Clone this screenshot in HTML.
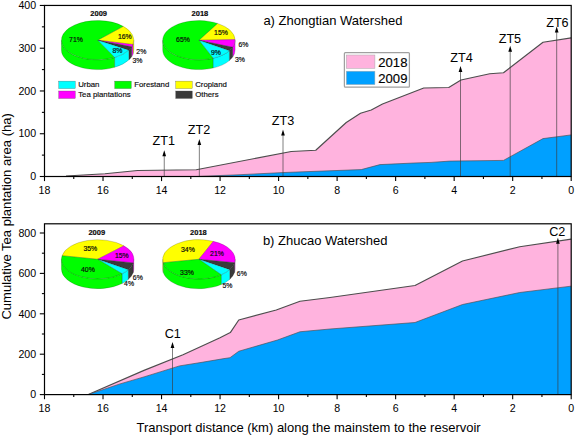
<!DOCTYPE html>
<html><head><meta charset="utf-8"><title>Cumulative tea plantation area</title>
<style>html,body{margin:0;padding:0;background:#fff}body{width:575px;height:436px;overflow:hidden}</style></head>
<body>
<svg width="575" height="436" viewBox="0 0 575 436" style="display:block;font-family:'Liberation Sans', Arial, sans-serif">
<rect x="0" y="0" width="575" height="436" fill="#fff"/>
<path d="M66.00,176.50 L66.00,176.00 L105.00,173.75 L137.50,170.50 L196.25,169.75 L291.25,151.50 L315.75,150.25 L346.25,122.50 L360.50,113.25 L371.25,110.00 L382.50,104.00 L423.75,88.00 L448.75,87.50 L461.00,80.00 L489.75,73.75 L503.50,72.75 L543.00,42.30 L571.20,37.90 L571.20,176.50 Z" fill="#FFB3DE" stroke="none"/>
<path d="M66.00,176.00 L105.00,173.75 L137.50,170.50 L196.25,169.75 L291.25,151.50 L315.75,150.25 L346.25,122.50 L360.50,113.25 L371.25,110.00 L382.50,104.00 L423.75,88.00 L448.75,87.50 L461.00,80.00 L489.75,73.75 L503.50,72.75 L543.00,42.30 L571.20,37.90" fill="none" stroke="#4d4d4d" stroke-width="1.15" stroke-linejoin="round"/>
<path d="M196.00,176.50 L196.00,176.50 L240.00,174.70 L284.00,172.50 L361.25,169.60 L380.00,164.60 L414.00,163.00 L431.00,162.40 L449.75,161.10 L503.50,160.40 L543.00,138.60 L571.20,134.90 L571.20,176.50 Z" fill="#00A0FF" stroke="none"/>
<path d="M196.00,176.50 L240.00,174.70 L284.00,172.50 L361.25,169.60 L380.00,164.60 L414.00,163.00 L431.00,162.40 L449.75,161.10 L503.50,160.40 L543.00,138.60 L571.20,134.90" fill="none" stroke="#4d4d4d" stroke-width="0.65" stroke-linejoin="round"/>
<path d="M88.30,394.60 L88.30,394.50 L144.00,370.40 L183.00,354.70 L220.00,337.70 L230.30,332.60 L238.75,320.00 L276.25,310.00 L300.00,301.25 L330.00,297.50 L415.00,285.50 L462.50,261.00 L519.75,246.75 L571.20,239.15 L571.20,394.60 Z" fill="#FFB3DE" stroke="none"/>
<path d="M88.30,394.50 L144.00,370.40 L183.00,354.70 L220.00,337.70 L230.30,332.60 L238.75,320.00 L276.25,310.00 L300.00,301.25 L330.00,297.50 L415.00,285.50 L462.50,261.00 L519.75,246.75 L571.20,239.15" fill="none" stroke="#4d4d4d" stroke-width="1.15" stroke-linejoin="round"/>
<path d="M88.30,394.60 L88.30,394.50 L120.00,383.90 L144.00,376.90 L179.50,365.90 L202.00,362.30 L224.00,358.60 L230.00,357.70 L238.75,351.25 L277.50,340.00 L300.00,331.75 L330.00,329.00 L415.00,322.50 L462.50,304.50 L519.75,292.50 L571.20,286.15 L571.20,394.60 Z" fill="#00A0FF" stroke="none"/>
<path d="M88.30,394.50 L120.00,383.90 L144.00,376.90 L179.50,365.90 L202.00,362.30 L224.00,358.60 L230.00,357.70 L238.75,351.25 L277.50,340.00 L300.00,331.75 L330.00,329.00 L415.00,322.50 L462.50,304.50 L519.75,292.50 L571.20,286.15" fill="none" stroke="#4d4d4d" stroke-width="0.65" stroke-linejoin="round"/>
<line x1="164.25" y1="176.50" x2="164.25" y2="153.20" stroke="#3a3a3a" stroke-width="0.65"/>
<path d="M164.25,150.20 L162.40,156.20 L166.10,156.20 Z" fill="#000"/>
<text x="163.75" y="145.20" font-size="12.65" text-anchor="middle" fill="#000">ZT1</text>
<line x1="199.35" y1="176.50" x2="199.35" y2="142.10" stroke="#3a3a3a" stroke-width="0.65"/>
<path d="M199.35,139.10 L197.50,145.10 L201.20,145.10 Z" fill="#000"/>
<text x="199.00" y="134.25" font-size="12.65" text-anchor="middle" fill="#000">ZT2</text>
<line x1="283.00" y1="176.50" x2="283.00" y2="132.50" stroke="#3a3a3a" stroke-width="0.65"/>
<path d="M283.00,129.50 L281.15,135.50 L284.85,135.50 Z" fill="#000"/>
<text x="283.00" y="124.50" font-size="12.65" text-anchor="middle" fill="#000">ZT3</text>
<line x1="460.50" y1="176.50" x2="460.50" y2="69.00" stroke="#3a3a3a" stroke-width="0.65"/>
<path d="M460.50,66.00 L458.65,72.00 L462.35,72.00 Z" fill="#000"/>
<text x="461.60" y="61.50" font-size="12.65" text-anchor="middle" fill="#000">ZT4</text>
<line x1="510.20" y1="176.50" x2="510.20" y2="48.75" stroke="#3a3a3a" stroke-width="0.65"/>
<path d="M510.20,45.75 L508.35,51.75 L512.05,51.75 Z" fill="#000"/>
<text x="509.90" y="43.40" font-size="12.65" text-anchor="middle" fill="#000">ZT5</text>
<line x1="556.70" y1="176.50" x2="556.70" y2="29.50" stroke="#3a3a3a" stroke-width="0.65"/>
<path d="M556.70,26.50 L554.85,32.50 L558.55,32.50 Z" fill="#000"/>
<text x="557.40" y="26.80" font-size="12.65" text-anchor="middle" fill="#000">ZT6</text>
<line x1="172.50" y1="394.60" x2="172.50" y2="345.00" stroke="#3a3a3a" stroke-width="0.65"/>
<path d="M172.50,342.00 L170.65,348.00 L174.35,348.00 Z" fill="#000"/>
<text x="172.80" y="338.40" font-size="12.65" text-anchor="middle" fill="#000">C1</text>
<line x1="557.90" y1="394.60" x2="557.90" y2="240.75" stroke="#3a3a3a" stroke-width="0.65"/>
<path d="M557.90,237.75 L556.05,243.75 L559.75,243.75 Z" fill="#000"/>
<text x="557.25" y="235.50" font-size="12.65" text-anchor="middle" fill="#000">C2</text>
<rect x="44.50" y="5.45" width="526.70" height="171.05" fill="none" stroke="#000" stroke-width="1.2"/>
<rect x="44.50" y="223.80" width="526.70" height="170.80" fill="none" stroke="#000" stroke-width="1.2"/>
<line x1="571.20" y1="176.50" x2="571.20" y2="181.10" stroke="#000" stroke-width="1.1"/>
<text x="571.20" y="193.90" font-size="10.60" text-anchor="middle" fill="#000">0</text>
<line x1="541.94" y1="176.50" x2="541.94" y2="178.90" stroke="#000" stroke-width="1.1"/>
<line x1="512.68" y1="176.50" x2="512.68" y2="181.10" stroke="#000" stroke-width="1.1"/>
<text x="512.68" y="193.90" font-size="10.60" text-anchor="middle" fill="#000">2</text>
<line x1="483.42" y1="176.50" x2="483.42" y2="178.90" stroke="#000" stroke-width="1.1"/>
<line x1="454.16" y1="176.50" x2="454.16" y2="181.10" stroke="#000" stroke-width="1.1"/>
<text x="454.16" y="193.90" font-size="10.60" text-anchor="middle" fill="#000">4</text>
<line x1="424.89" y1="176.50" x2="424.89" y2="178.90" stroke="#000" stroke-width="1.1"/>
<line x1="395.63" y1="176.50" x2="395.63" y2="181.10" stroke="#000" stroke-width="1.1"/>
<text x="395.63" y="193.90" font-size="10.60" text-anchor="middle" fill="#000">6</text>
<line x1="366.37" y1="176.50" x2="366.37" y2="178.90" stroke="#000" stroke-width="1.1"/>
<line x1="337.11" y1="176.50" x2="337.11" y2="181.10" stroke="#000" stroke-width="1.1"/>
<text x="337.11" y="193.90" font-size="10.60" text-anchor="middle" fill="#000">8</text>
<line x1="307.85" y1="176.50" x2="307.85" y2="178.90" stroke="#000" stroke-width="1.1"/>
<line x1="278.59" y1="176.50" x2="278.59" y2="181.10" stroke="#000" stroke-width="1.1"/>
<text x="278.59" y="193.90" font-size="10.60" text-anchor="middle" fill="#000">10</text>
<line x1="249.33" y1="176.50" x2="249.33" y2="178.90" stroke="#000" stroke-width="1.1"/>
<line x1="220.07" y1="176.50" x2="220.07" y2="181.10" stroke="#000" stroke-width="1.1"/>
<text x="220.07" y="193.90" font-size="10.60" text-anchor="middle" fill="#000">12</text>
<line x1="190.81" y1="176.50" x2="190.81" y2="178.90" stroke="#000" stroke-width="1.1"/>
<line x1="161.54" y1="176.50" x2="161.54" y2="181.10" stroke="#000" stroke-width="1.1"/>
<text x="161.54" y="193.90" font-size="10.60" text-anchor="middle" fill="#000">14</text>
<line x1="132.28" y1="176.50" x2="132.28" y2="178.90" stroke="#000" stroke-width="1.1"/>
<line x1="103.02" y1="176.50" x2="103.02" y2="181.10" stroke="#000" stroke-width="1.1"/>
<text x="103.02" y="193.90" font-size="10.60" text-anchor="middle" fill="#000">16</text>
<line x1="73.76" y1="176.50" x2="73.76" y2="178.90" stroke="#000" stroke-width="1.1"/>
<line x1="44.50" y1="176.50" x2="44.50" y2="181.10" stroke="#000" stroke-width="1.1"/>
<text x="44.50" y="193.90" font-size="10.60" text-anchor="middle" fill="#000">18</text>
<line x1="571.20" y1="394.60" x2="571.20" y2="399.20" stroke="#000" stroke-width="1.1"/>
<text x="571.20" y="412.00" font-size="10.60" text-anchor="middle" fill="#000">0</text>
<line x1="541.94" y1="394.60" x2="541.94" y2="397.00" stroke="#000" stroke-width="1.1"/>
<line x1="512.68" y1="394.60" x2="512.68" y2="399.20" stroke="#000" stroke-width="1.1"/>
<text x="512.68" y="412.00" font-size="10.60" text-anchor="middle" fill="#000">2</text>
<line x1="483.42" y1="394.60" x2="483.42" y2="397.00" stroke="#000" stroke-width="1.1"/>
<line x1="454.16" y1="394.60" x2="454.16" y2="399.20" stroke="#000" stroke-width="1.1"/>
<text x="454.16" y="412.00" font-size="10.60" text-anchor="middle" fill="#000">4</text>
<line x1="424.89" y1="394.60" x2="424.89" y2="397.00" stroke="#000" stroke-width="1.1"/>
<line x1="395.63" y1="394.60" x2="395.63" y2="399.20" stroke="#000" stroke-width="1.1"/>
<text x="395.63" y="412.00" font-size="10.60" text-anchor="middle" fill="#000">6</text>
<line x1="366.37" y1="394.60" x2="366.37" y2="397.00" stroke="#000" stroke-width="1.1"/>
<line x1="337.11" y1="394.60" x2="337.11" y2="399.20" stroke="#000" stroke-width="1.1"/>
<text x="337.11" y="412.00" font-size="10.60" text-anchor="middle" fill="#000">8</text>
<line x1="307.85" y1="394.60" x2="307.85" y2="397.00" stroke="#000" stroke-width="1.1"/>
<line x1="278.59" y1="394.60" x2="278.59" y2="399.20" stroke="#000" stroke-width="1.1"/>
<text x="278.59" y="412.00" font-size="10.60" text-anchor="middle" fill="#000">10</text>
<line x1="249.33" y1="394.60" x2="249.33" y2="397.00" stroke="#000" stroke-width="1.1"/>
<line x1="220.07" y1="394.60" x2="220.07" y2="399.20" stroke="#000" stroke-width="1.1"/>
<text x="220.07" y="412.00" font-size="10.60" text-anchor="middle" fill="#000">12</text>
<line x1="190.81" y1="394.60" x2="190.81" y2="397.00" stroke="#000" stroke-width="1.1"/>
<line x1="161.54" y1="394.60" x2="161.54" y2="399.20" stroke="#000" stroke-width="1.1"/>
<text x="161.54" y="412.00" font-size="10.60" text-anchor="middle" fill="#000">14</text>
<line x1="132.28" y1="394.60" x2="132.28" y2="397.00" stroke="#000" stroke-width="1.1"/>
<line x1="103.02" y1="394.60" x2="103.02" y2="399.20" stroke="#000" stroke-width="1.1"/>
<text x="103.02" y="412.00" font-size="10.60" text-anchor="middle" fill="#000">16</text>
<line x1="73.76" y1="394.60" x2="73.76" y2="397.00" stroke="#000" stroke-width="1.1"/>
<line x1="44.50" y1="394.60" x2="44.50" y2="399.20" stroke="#000" stroke-width="1.1"/>
<text x="44.50" y="412.00" font-size="10.60" text-anchor="middle" fill="#000">18</text>
<line x1="39.80" y1="176.50" x2="44.50" y2="176.50" stroke="#000" stroke-width="1.1"/>
<text x="36.10" y="180.25" font-size="10.60" text-anchor="end" fill="#000">0</text>
<line x1="39.80" y1="133.74" x2="44.50" y2="133.74" stroke="#000" stroke-width="1.1"/>
<text x="36.10" y="137.49" font-size="10.60" text-anchor="end" fill="#000">100</text>
<line x1="39.80" y1="90.97" x2="44.50" y2="90.97" stroke="#000" stroke-width="1.1"/>
<text x="36.10" y="94.72" font-size="10.60" text-anchor="end" fill="#000">200</text>
<line x1="39.80" y1="48.21" x2="44.50" y2="48.21" stroke="#000" stroke-width="1.1"/>
<text x="36.10" y="51.96" font-size="10.60" text-anchor="end" fill="#000">300</text>
<line x1="39.80" y1="5.45" x2="44.50" y2="5.45" stroke="#000" stroke-width="1.1"/>
<text x="36.10" y="9.20" font-size="10.60" text-anchor="end" fill="#000">400</text>
<line x1="41.90" y1="155.12" x2="44.50" y2="155.12" stroke="#000" stroke-width="1.1"/>
<line x1="41.90" y1="112.36" x2="44.50" y2="112.36" stroke="#000" stroke-width="1.1"/>
<line x1="41.90" y1="69.59" x2="44.50" y2="69.59" stroke="#000" stroke-width="1.1"/>
<line x1="41.90" y1="26.83" x2="44.50" y2="26.83" stroke="#000" stroke-width="1.1"/>
<line x1="39.80" y1="394.60" x2="44.50" y2="394.60" stroke="#000" stroke-width="1.1"/>
<text x="36.10" y="398.35" font-size="10.60" text-anchor="end" fill="#000">0</text>
<line x1="39.80" y1="354.20" x2="44.50" y2="354.20" stroke="#000" stroke-width="1.1"/>
<text x="36.10" y="357.95" font-size="10.60" text-anchor="end" fill="#000">200</text>
<line x1="39.80" y1="313.80" x2="44.50" y2="313.80" stroke="#000" stroke-width="1.1"/>
<text x="36.10" y="317.55" font-size="10.60" text-anchor="end" fill="#000">400</text>
<line x1="39.80" y1="273.40" x2="44.50" y2="273.40" stroke="#000" stroke-width="1.1"/>
<text x="36.10" y="277.15" font-size="10.60" text-anchor="end" fill="#000">600</text>
<line x1="39.80" y1="233.00" x2="44.50" y2="233.00" stroke="#000" stroke-width="1.1"/>
<text x="36.10" y="236.75" font-size="10.60" text-anchor="end" fill="#000">800</text>
<line x1="41.90" y1="374.40" x2="44.50" y2="374.40" stroke="#000" stroke-width="1.1"/>
<line x1="41.90" y1="334.00" x2="44.50" y2="334.00" stroke="#000" stroke-width="1.1"/>
<line x1="41.90" y1="293.60" x2="44.50" y2="293.60" stroke="#000" stroke-width="1.1"/>
<line x1="41.90" y1="253.20" x2="44.50" y2="253.20" stroke="#000" stroke-width="1.1"/>
<text x="263.4" y="24.9" font-size="13.0" fill="#000">a) Zhongtian Watershed</text>
<text x="262.9" y="245" font-size="13.0" fill="#000">b) Zhucao Watershed</text>
<text x="136.5" y="431.8" font-size="13.0" fill="#000">Transport distance (km) along the mainstem to the reservoir</text>
<text transform="translate(11.3,319.6) rotate(-90)" font-size="13.05" fill="#000">Cumulative Tea plantation area (ha)</text>
<rect x="344.4" y="52.6" width="65" height="34.6" rx="1" ry="1" fill="#fff" stroke="#a0a0a0" stroke-width="1.25"/>
<rect x="346.3" y="55" width="28.6" height="13.4" fill="#FFB3DE" stroke="#aaa" stroke-width="0.5"/>
<rect x="346.3" y="71.2" width="28.6" height="13.4" fill="#00A0FF" stroke="#aaa" stroke-width="0.5"/>
<text x="378.3" y="66.9" font-size="13.1" fill="#000" stroke="#000" stroke-width="0.15">2018</text>
<text x="378.3" y="82.8" font-size="13.1" fill="#000" stroke="#000" stroke-width="0.15">2009</text>
<path d="M133.80,40.20 A36.20,19.60 0 0 1 132.93,44.48 L132.93,54.28 A36.20,19.60 0 0 0 133.80,50.00 Z" fill="#FFFF00" stroke="#000" stroke-opacity="0.5" stroke-width="0.35" stroke-linejoin="round"/>
<path d="M132.93,44.48 A36.20,19.60 0 0 1 131.66,46.84 L131.66,56.64 A36.20,19.60 0 0 0 132.93,54.28 Z" fill="#FF00FF" stroke="#000" stroke-opacity="0.5" stroke-width="0.35" stroke-linejoin="round"/>
<path d="M131.66,46.84 A36.20,19.60 0 0 1 128.76,50.18 L128.76,59.98 A36.20,19.60 0 0 0 131.66,56.64 Z" fill="#3a3a3a" stroke="#000" stroke-opacity="0.5" stroke-width="0.35" stroke-linejoin="round"/>
<path d="M128.76,50.18 A36.20,19.60 0 0 1 114.59,57.51 L114.59,67.31 A36.20,19.60 0 0 0 128.76,59.98 Z" fill="#00FFFF" stroke="#000" stroke-opacity="0.5" stroke-width="0.35" stroke-linejoin="round"/>
<path d="M114.59,57.51 A36.20,19.60 0 0 1 61.40,40.20 L61.40,50.00 A36.20,19.60 0 0 0 114.59,67.31 Z" fill="#00FD00" stroke="#000" stroke-opacity="0.5" stroke-width="0.35" stroke-linejoin="round"/>
<path d="M97.60,40.20 L123.20,26.34 A36.20,19.60 0 0 1 132.93,44.48 Z" fill="#FFFF00" stroke="#000" stroke-opacity="0.5" stroke-width="0.35" stroke-linejoin="round"/>
<path d="M97.60,40.20 L132.93,44.48 A36.20,19.60 0 0 1 131.66,46.84 Z" fill="#FF00FF" stroke="#000" stroke-opacity="0.5" stroke-width="0.35" stroke-linejoin="round"/>
<path d="M97.60,40.20 L131.66,46.84 A36.20,19.60 0 0 1 128.76,50.18 Z" fill="#3a3a3a" stroke="#000" stroke-opacity="0.5" stroke-width="0.35" stroke-linejoin="round"/>
<path d="M97.60,40.20 L128.76,50.18 A36.20,19.60 0 0 1 114.59,57.51 Z" fill="#00FFFF" stroke="#000" stroke-opacity="0.5" stroke-width="0.35" stroke-linejoin="round"/>
<path d="M97.60,40.20 L114.59,57.51 A36.20,19.60 0 1 1 123.20,26.34 Z" fill="#00FD00" stroke="#000" stroke-opacity="0.5" stroke-width="0.35" stroke-linejoin="round"/>
<text x="98.70" y="15.90" font-size="7.50" text-anchor="middle" fill="#0a0a0a" stroke="#0a0a0a" stroke-width="0.18" font-weight="bold">2009</text>
<text x="76.00" y="41.88" font-size="6.90" text-anchor="middle" fill="#0a0a0a" stroke="#0a0a0a" stroke-width="0.18">71%</text>
<text x="124.80" y="38.78" font-size="6.90" text-anchor="middle" fill="#0a0a0a" stroke="#0a0a0a" stroke-width="0.18">16%</text>
<text x="117.50" y="53.48" font-size="6.90" text-anchor="middle" fill="#0a0a0a" stroke="#0a0a0a" stroke-width="0.18">8%</text>
<text x="141.30" y="54.08" font-size="6.90" text-anchor="middle" fill="#0a0a0a" stroke="#0a0a0a" stroke-width="0.18">2%</text>
<text x="137.50" y="63.48" font-size="6.90" text-anchor="middle" fill="#0a0a0a" stroke="#0a0a0a" stroke-width="0.18">3%</text>
<path d="M235.10,40.20 A36.20,19.60 0 0 1 232.65,47.29 L232.65,57.09 A36.20,19.60 0 0 0 235.10,50.00 Z" fill="#FF00FF" stroke="#000" stroke-opacity="0.5" stroke-width="0.35" stroke-linejoin="round"/>
<path d="M232.65,47.29 A36.20,19.60 0 0 1 229.36,50.79 L229.36,60.59 A36.20,19.60 0 0 0 232.65,57.09 Z" fill="#3a3a3a" stroke="#000" stroke-opacity="0.5" stroke-width="0.35" stroke-linejoin="round"/>
<path d="M229.36,50.79 A36.20,19.60 0 0 1 213.04,58.24 L213.04,68.04 A36.20,19.60 0 0 0 229.36,60.59 Z" fill="#00FFFF" stroke="#000" stroke-opacity="0.5" stroke-width="0.35" stroke-linejoin="round"/>
<path d="M213.04,58.24 A36.20,19.60 0 0 1 162.70,40.20 L162.70,50.00 A36.20,19.60 0 0 0 213.04,68.04 Z" fill="#00FD00" stroke="#000" stroke-opacity="0.5" stroke-width="0.35" stroke-linejoin="round"/>
<path d="M198.90,40.20 L217.54,23.40 A36.20,19.60 0 0 1 235.08,39.62 Z" fill="#FFFF00" stroke="#000" stroke-opacity="0.5" stroke-width="0.35" stroke-linejoin="round"/>
<path d="M198.90,40.20 L235.08,39.62 A36.20,19.60 0 0 1 232.65,47.29 Z" fill="#FF00FF" stroke="#000" stroke-opacity="0.5" stroke-width="0.35" stroke-linejoin="round"/>
<path d="M198.90,40.20 L232.65,47.29 A36.20,19.60 0 0 1 229.36,50.79 Z" fill="#3a3a3a" stroke="#000" stroke-opacity="0.5" stroke-width="0.35" stroke-linejoin="round"/>
<path d="M198.90,40.20 L229.36,50.79 A36.20,19.60 0 0 1 213.04,58.24 Z" fill="#00FFFF" stroke="#000" stroke-opacity="0.5" stroke-width="0.35" stroke-linejoin="round"/>
<path d="M198.90,40.20 L213.04,58.24 A36.20,19.60 0 1 1 217.54,23.40 Z" fill="#00FD00" stroke="#000" stroke-opacity="0.5" stroke-width="0.35" stroke-linejoin="round"/>
<text x="199.90" y="15.90" font-size="7.50" text-anchor="middle" fill="#0a0a0a" stroke="#0a0a0a" stroke-width="0.18" font-weight="bold">2018</text>
<text x="183.00" y="42.28" font-size="6.90" text-anchor="middle" fill="#0a0a0a" stroke="#0a0a0a" stroke-width="0.18">65%</text>
<text x="221.00" y="34.98" font-size="6.90" text-anchor="middle" fill="#0a0a0a" stroke="#0a0a0a" stroke-width="0.18">15%</text>
<text x="216.00" y="54.78" font-size="6.90" text-anchor="middle" fill="#0a0a0a" stroke="#0a0a0a" stroke-width="0.18">9%</text>
<text x="243.40" y="46.58" font-size="6.90" text-anchor="middle" fill="#0a0a0a" stroke="#0a0a0a" stroke-width="0.18">6%</text>
<text x="240.00" y="62.28" font-size="6.90" text-anchor="middle" fill="#0a0a0a" stroke="#0a0a0a" stroke-width="0.18">3%</text>
<path d="M133.80,259.30 A36.20,19.60 0 0 1 133.18,262.91 L133.18,272.71 A36.20,19.60 0 0 0 133.80,269.10 Z" fill="#FF00FF" stroke="#000" stroke-opacity="0.5" stroke-width="0.35" stroke-linejoin="round"/>
<path d="M133.18,262.91 A36.20,19.60 0 0 1 128.23,269.74 L128.23,279.54 A36.20,19.60 0 0 0 133.18,272.71 Z" fill="#3a3a3a" stroke="#000" stroke-opacity="0.5" stroke-width="0.35" stroke-linejoin="round"/>
<path d="M128.23,269.74 A36.20,19.60 0 0 1 122.06,273.75 L122.06,283.55 A36.20,19.60 0 0 0 128.23,279.54 Z" fill="#00FFFF" stroke="#000" stroke-opacity="0.5" stroke-width="0.35" stroke-linejoin="round"/>
<path d="M122.06,273.75 A36.20,19.60 0 0 1 61.40,259.30 L61.40,269.10 A36.20,19.60 0 0 0 122.06,283.55 Z" fill="#00FD00" stroke="#000" stroke-opacity="0.5" stroke-width="0.35" stroke-linejoin="round"/>
<path d="M97.60,259.30 L62.02,255.69 A36.20,19.60 0 0 1 123.90,245.83 Z" fill="#FFFF00" stroke="#000" stroke-opacity="0.5" stroke-width="0.35" stroke-linejoin="round"/>
<path d="M97.60,259.30 L123.90,245.83 A36.20,19.60 0 0 1 133.18,262.91 Z" fill="#FF00FF" stroke="#000" stroke-opacity="0.5" stroke-width="0.35" stroke-linejoin="round"/>
<path d="M97.60,259.30 L133.18,262.91 A36.20,19.60 0 0 1 128.23,269.74 Z" fill="#3a3a3a" stroke="#000" stroke-opacity="0.5" stroke-width="0.35" stroke-linejoin="round"/>
<path d="M97.60,259.30 L128.23,269.74 A36.20,19.60 0 0 1 122.06,273.75 Z" fill="#00FFFF" stroke="#000" stroke-opacity="0.5" stroke-width="0.35" stroke-linejoin="round"/>
<path d="M97.60,259.30 L122.06,273.75 A36.20,19.60 0 0 1 62.02,255.69 Z" fill="#00FD00" stroke="#000" stroke-opacity="0.5" stroke-width="0.35" stroke-linejoin="round"/>
<text x="96.80" y="234.50" font-size="7.50" text-anchor="middle" fill="#0a0a0a" stroke="#0a0a0a" stroke-width="0.18" font-weight="bold">2009</text>
<text x="90.30" y="250.58" font-size="6.90" text-anchor="middle" fill="#0a0a0a" stroke="#0a0a0a" stroke-width="0.18">35%</text>
<text x="121.80" y="258.08" font-size="6.90" text-anchor="middle" fill="#0a0a0a" stroke="#0a0a0a" stroke-width="0.18">15%</text>
<text x="87.90" y="272.28" font-size="6.90" text-anchor="middle" fill="#0a0a0a" stroke="#0a0a0a" stroke-width="0.18">40%</text>
<text x="137.80" y="280.18" font-size="6.90" text-anchor="middle" fill="#0a0a0a" stroke="#0a0a0a" stroke-width="0.18">6%</text>
<text x="129.10" y="286.18" font-size="6.90" text-anchor="middle" fill="#0a0a0a" stroke="#0a0a0a" stroke-width="0.18">4%</text>
<path d="M163.25,262.70 A36.20,19.60 0 0 1 162.70,259.30 L162.70,269.10 A36.20,19.60 0 0 0 163.25,272.50 Z" fill="#FFFF00" stroke="#000" stroke-opacity="0.5" stroke-width="0.35" stroke-linejoin="round"/>
<path d="M235.10,259.30 A36.20,19.60 0 0 1 234.55,262.70 L234.55,272.50 A36.20,19.60 0 0 0 235.10,269.10 Z" fill="#FF00FF" stroke="#000" stroke-opacity="0.5" stroke-width="0.35" stroke-linejoin="round"/>
<path d="M234.55,262.70 A36.20,19.60 0 0 1 229.67,269.63 L229.67,279.43 A36.20,19.60 0 0 0 234.55,272.50 Z" fill="#3a3a3a" stroke="#000" stroke-opacity="0.5" stroke-width="0.35" stroke-linejoin="round"/>
<path d="M229.67,269.63 A36.20,19.60 0 0 1 221.19,274.75 L221.19,284.55 A36.20,19.60 0 0 0 229.67,279.43 Z" fill="#00FFFF" stroke="#000" stroke-opacity="0.5" stroke-width="0.35" stroke-linejoin="round"/>
<path d="M221.19,274.75 A36.20,19.60 0 0 1 163.25,262.70 L163.25,272.50 A36.20,19.60 0 0 0 221.19,284.55 Z" fill="#00FD00" stroke="#000" stroke-opacity="0.5" stroke-width="0.35" stroke-linejoin="round"/>
<path d="M198.90,259.30 L163.25,262.70 A36.20,19.60 0 0 1 213.33,241.33 Z" fill="#FFFF00" stroke="#000" stroke-opacity="0.5" stroke-width="0.35" stroke-linejoin="round"/>
<path d="M198.90,259.30 L213.33,241.33 A36.20,19.60 0 0 1 234.55,262.70 Z" fill="#FF00FF" stroke="#000" stroke-opacity="0.5" stroke-width="0.35" stroke-linejoin="round"/>
<path d="M198.90,259.30 L234.55,262.70 A36.20,19.60 0 0 1 229.67,269.63 Z" fill="#3a3a3a" stroke="#000" stroke-opacity="0.5" stroke-width="0.35" stroke-linejoin="round"/>
<path d="M198.90,259.30 L229.67,269.63 A36.20,19.60 0 0 1 221.19,274.75 Z" fill="#00FFFF" stroke="#000" stroke-opacity="0.5" stroke-width="0.35" stroke-linejoin="round"/>
<path d="M198.90,259.30 L221.19,274.75 A36.20,19.60 0 0 1 163.25,262.70 Z" fill="#00FD00" stroke="#000" stroke-opacity="0.5" stroke-width="0.35" stroke-linejoin="round"/>
<text x="198.40" y="234.50" font-size="7.50" text-anchor="middle" fill="#0a0a0a" stroke="#0a0a0a" stroke-width="0.18" font-weight="bold">2018</text>
<text x="187.90" y="252.28" font-size="6.90" text-anchor="middle" fill="#0a0a0a" stroke="#0a0a0a" stroke-width="0.18">34%</text>
<text x="217.00" y="255.78" font-size="6.90" text-anchor="middle" fill="#0a0a0a" stroke="#0a0a0a" stroke-width="0.18">21%</text>
<text x="187.00" y="274.58" font-size="6.90" text-anchor="middle" fill="#0a0a0a" stroke="#0a0a0a" stroke-width="0.18">33%</text>
<text x="241.80" y="275.78" font-size="6.90" text-anchor="middle" fill="#0a0a0a" stroke="#0a0a0a" stroke-width="0.18">6%</text>
<text x="227.40" y="287.98" font-size="6.90" text-anchor="middle" fill="#0a0a0a" stroke="#0a0a0a" stroke-width="0.18">5%</text>
<rect x="58.70" y="81.10" width="16.6" height="7.5" fill="#00FFFF" stroke="#555" stroke-width="0.3"/>
<text x="78.20" y="87.25" font-size="7.8" fill="#0a0a0a" stroke="#0a0a0a" stroke-width="0.15">Urban</text>
<rect x="114.70" y="81.10" width="16.6" height="7.5" fill="#00FD00" stroke="#555" stroke-width="0.3"/>
<text x="134.20" y="87.25" font-size="7.8" fill="#0a0a0a" stroke="#0a0a0a" stroke-width="0.15">Forestand</text>
<rect x="175.70" y="81.10" width="16.6" height="7.5" fill="#FFFF00" stroke="#555" stroke-width="0.3"/>
<text x="195.20" y="87.25" font-size="7.8" fill="#0a0a0a" stroke="#0a0a0a" stroke-width="0.15">Cropland</text>
<rect x="58.70" y="91.00" width="16.6" height="7.5" fill="#FF00FF" stroke="#555" stroke-width="0.3"/>
<text x="78.20" y="97.15" font-size="7.8" fill="#0a0a0a" stroke="#0a0a0a" stroke-width="0.15">Tea plantations</text>
<rect x="175.70" y="91.00" width="16.6" height="7.5" fill="#3a3a3a" stroke="#555" stroke-width="0.3"/>
<text x="195.20" y="97.15" font-size="7.8" fill="#0a0a0a" stroke="#0a0a0a" stroke-width="0.15">Others</text>
</svg>
</body></html>
